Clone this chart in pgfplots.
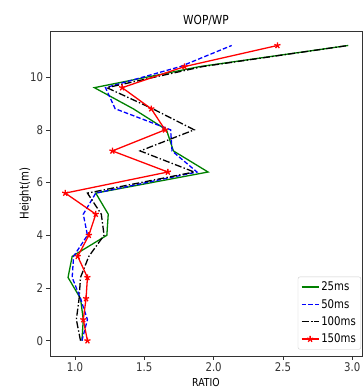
\documentclass[border=0pt]{standalone}
\usepackage{pgfplots}
\pgfplotsset{compat=1.18}
\usepackage{fontspec}
\setmainfont{DejaVu Sans}[FakeStretch=0.85]
\usetikzlibrary{plotmarks}
\definecolor{mplgreen}{rgb}{0,0.5,0}
\begin{document}
\begin{tikzpicture}
\useasboundingbox (-50bp,-36bp) rectangle (313bp,356bp);
\begin{axis}[
  at={(0,0)}, anchor=south west,
  scale only axis, width=312bp, height=325bp,
  xmin=0.82, xmax=3.07, ymin=-0.58, ymax=11.75,
  xtick={1.0,1.5,2.0,2.5,3.0},
  xticklabels={1.0,1.5,2.0,2.5,3.0},
  ytick={0,2,4,6,8,10},
  tick align=outside, tick pos=left,
  major tick length=3.5bp,
  every tick/.style={black!80, line width=0.6pt},
  axis line style={black!80, line width=0.7pt},
  ticklabel style={font=\fontsize{12}{14}\selectfont, text=black!80},
  /pgf/number format/assume math mode=true,
  title={WOP/WP}, title style={font=\fontsize{12.5}{14}\selectfont, yshift=-4bp},
  xlabel={RATIO}, xlabel style={font=\fontsize{11}{13}\selectfont, yshift=1bp},
  ylabel={Height(m)}, ylabel style={font=\fontsize{12}{14}\selectfont, yshift=-8bp},
  legend style={font=\fontsize{12}{14}\selectfont, draw=black!20, rounded corners=2bp, row sep=3bp, inner sep=3bp, at={(0.997,0.02)}, anchor=south east},
  legend cell align=left,
]
\addplot[color=mplgreen, draw=mplgreen, line width=1.3pt] coordinates {
(1.05,0) (1.06,0.8) (1.04,1.6) (0.95,2.4) (0.98,3.2) (1.23,4.0) (1.24,4.8) (1.15,5.6) (1.96,6.4) (1.71,7.2) (1.66,8.0) (1.42,8.8) (1.14,9.6) (1.90,10.4) (2.97,11.2)};
\addlegendentry{25ms}
\addplot[color=blue, draw=blue, line width=1.3pt, dash pattern=on 4.5bp off 2.2bp] coordinates {
(1.05,0) (1.09,0.8) (1.04,1.6) (0.98,2.4) (0.99,3.2) (1.09,4.0) (1.06,4.8) (1.15,5.6) (1.88,6.4) (1.70,7.2) (1.69,8.0) (1.29,8.8) (1.22,9.6) (1.76,10.4) (2.13,11.2)};
\addlegendentry{50ms}
\addplot[color=black, draw=black, line width=1.3pt, dash pattern=on 7bp off 2.2bp on 1.4bp off 2.2bp] coordinates {
(1.04,0) (1.01,0.8) (1.03,1.6) (1.04,2.4) (1.10,3.2) (1.21,4.0) (1.19,4.8) (1.09,5.6) (1.86,6.4) (1.47,7.2) (1.86,8.0) (1.56,8.8) (1.23,9.6) (1.92,10.4) (2.97,11.2)};
\addlegendentry{100ms}
\addplot[color=red, draw=red, line width=1.3pt, mark=star, mark size=3.2bp, mark options={solid, draw=red, line width=1.3pt}] coordinates {
(1.09,0) (1.06,0.8) (1.08,1.6) (1.09,2.4) (1.02,3.2) (1.10,4.0) (1.15,4.8) (0.93,5.6) (1.67,6.4) (1.27,7.2) (1.65,8.0) (1.55,8.8) (1.34,9.6) (1.79,10.4) (2.46,11.2)};
\addlegendentry{150ms}
\end{axis}
\end{tikzpicture}
\end{document}
